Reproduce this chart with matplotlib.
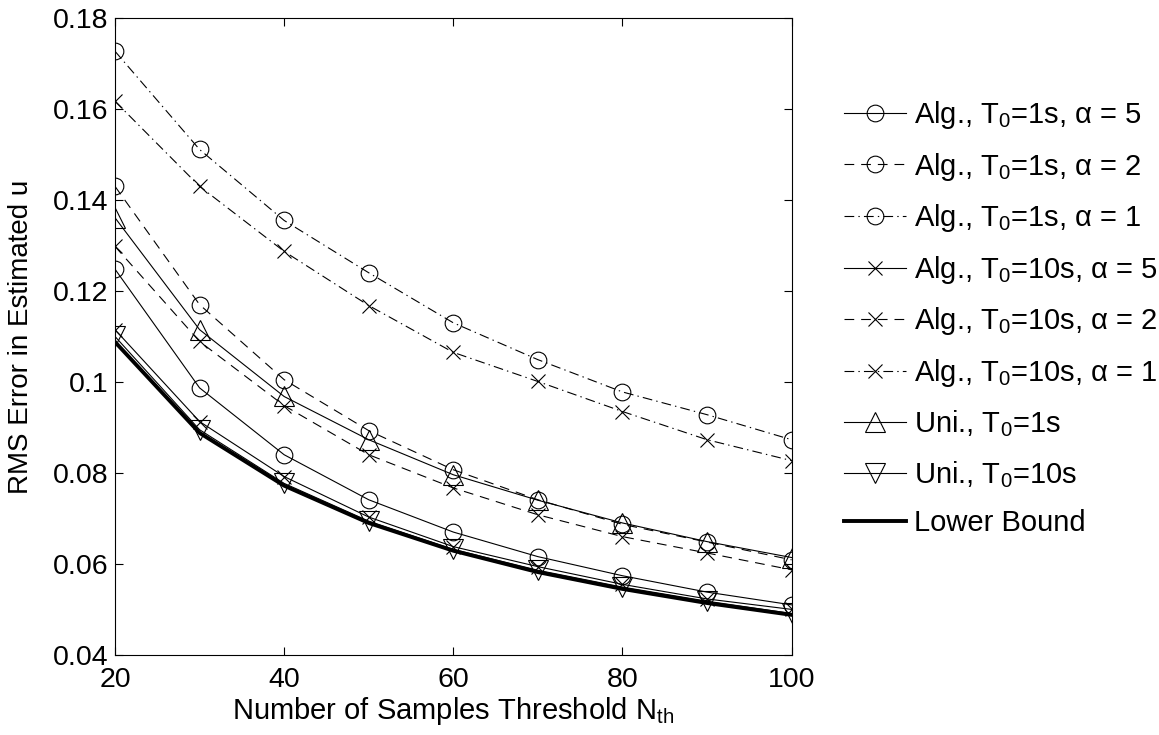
import matplotlib
matplotlib.use('Agg')
import matplotlib.pyplot as plt
from matplotlib.ticker import FormatStrFormatter

plt.rcParams['font.family'] = ['Liberation Sans', 'DejaVu Sans']
plt.rcParams['mathtext.default'] = 'regular'
plt.rcParams['lines.scale_dashes'] = False

# data
n_th = [20, 30, 40, 50, 60, 70, 80, 90, 100]
alg1_a5 = [0.1248, 0.0987, 0.0840, 0.0741, 0.0670, 0.0616, 0.0574, 0.0538, 0.0510]
alg1_a2 = [0.1430, 0.1170, 0.1005, 0.0893, 0.0807, 0.0741, 0.0687, 0.0648, 0.0609]
alg1_a1 = [0.1727, 0.1511, 0.1355, 0.1240, 0.1130, 0.1049, 0.0978, 0.0928, 0.0873]
alg10_a5 = [0.1115, 0.0913, 0.0792, 0.0703, 0.0638, 0.0594, 0.0555, 0.0523, 0.0500]
alg10_a2 = [0.1298, 0.1089, 0.0948, 0.0840, 0.0767, 0.0708, 0.0660, 0.0624, 0.0587]
alg10_a1 = [0.1617, 0.1430, 0.1287, 0.1168, 0.1065, 0.1001, 0.0935, 0.0873, 0.0827]
uni1 = [0.1361, 0.1115, 0.0968, 0.0873, 0.0796, 0.0740, 0.0690, 0.0649, 0.0614]
uni10 = [0.1100, 0.0895, 0.0777, 0.0694, 0.0632, 0.0586, 0.0549, 0.0518, 0.0491]
lower_bound = [0.1088, 0.0888, 0.0772, 0.0690, 0.0629, 0.0582, 0.0545, 0.0514, 0.0488]

labels = ['Alg., T$_0$=1s, α = 5', 'Alg., T$_0$=1s, α = 2', 'Alg., T$_0$=1s, α = 1',
          'Alg., T$_0$=10s, α = 5', 'Alg., T$_0$=10s, α = 2', 'Alg., T$_0$=10s, α = 1',
          'Uni., T$_0$=1s', 'Uni., T$_0$=10s', 'Lower Bound']

solid = '-'
dashed = (0, (7, 5))
dashdot = (0, (7, 3, 1, 3))

fs = 21

fig = plt.figure(figsize=(11.59, 7.35), dpi=100)
ax = fig.add_axes([0.0992, 0.109, 0.5838, 0.8665])

kw = dict(color='black', lw=0.8, mfc='none', mec='black', mew=0.8)
ax.plot(n_th, alg1_a5, ls=solid, marker='o', ms=12, label=labels[0], **kw)
ax.plot(n_th, alg1_a2, ls=dashed, marker='o', ms=12, label=labels[1], **kw)
ax.plot(n_th, alg1_a1, ls=dashdot, marker='o', ms=12, label=labels[2], **kw)
ax.plot(n_th, alg10_a5, ls=solid, marker='x', ms=10, label=labels[3], **kw)
ax.plot(n_th, alg10_a2, ls=dashed, marker='x', ms=10, label=labels[4], **kw)
ax.plot(n_th, alg10_a1, ls=dashdot, marker='x', ms=10, label=labels[5], **kw)
ax.plot(n_th, uni1, ls=solid, marker='^', ms=14, label=labels[6], **kw)
ax.plot(n_th, uni10, ls=solid, marker='v', ms=14, label=labels[7], **kw)
ax.plot(n_th, lower_bound, color='black', lw=2.8, label=labels[8])

ax.set_xlim(20, 100)
ax.set_ylim(0.04, 0.18)
ax.set_xticks([20, 40, 60, 80, 100])
ax.set_yticks([0.04, 0.06, 0.08, 0.1, 0.12, 0.14, 0.16, 0.18])
ax.yaxis.set_major_formatter(FormatStrFormatter('%g'))
ax.tick_params(direction='in', top=True, right=True, length=6, width=0.8,
               labelsize=20.5)
ax.tick_params(axis='x', pad=9)
ax.tick_params(axis='y', pad=5)
for s in ax.spines.values():
    s.set_linewidth(0.8)

ax.set_xlabel('Number of Samples Threshold N$_{th}$', fontsize=fs, labelpad=1)
ax.set_ylabel('RMS Error in Estimated u', fontsize=20, labelpad=13)

ax.legend(loc='upper left', bbox_to_anchor=(0.7185, 0.881), bbox_transform=fig.transFigure,
          frameon=False, fontsize=fs, numpoints=1, handlelength=2.12,
          handletextpad=0.27, labelspacing=0.67, borderaxespad=0)

fig.savefig('out.png', dpi=100)
